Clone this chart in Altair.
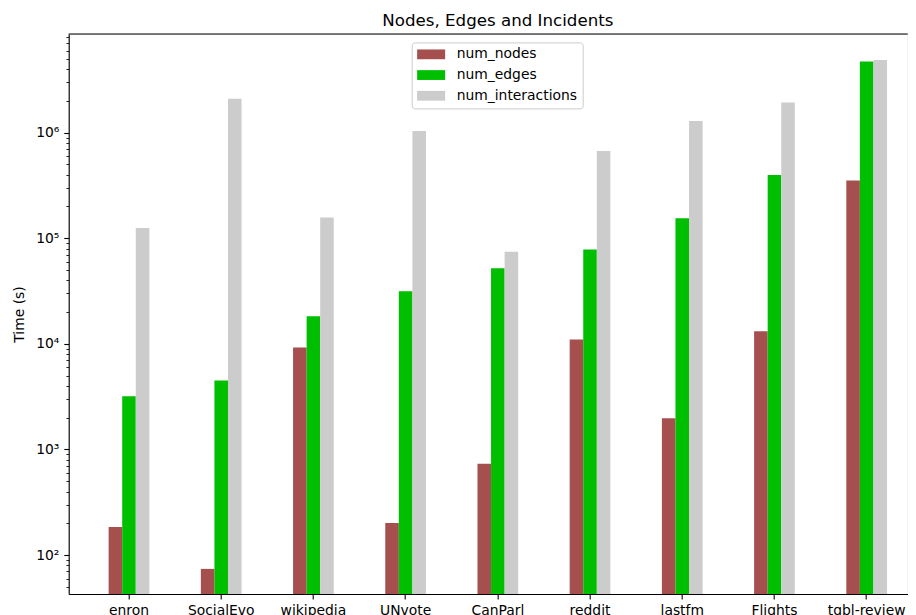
import altair as alt
import pandas as pd

# ---- data ----
datasets = ["enron", "SocialEvo", "wikipedia", "UNvote", "CanParl",
            "reddit", "lastfm", "Flights", "tgbl-review"]
series = ["num_nodes", "num_edges", "num_interactions"]
num_nodes = [184, 74, 9227, 201, 734, 10984, 1980, 13169, 352637]
num_edges = [3200, 4500, 18300, 31500, 51900, 78500, 155000, 397000, 4730000]
num_interactions = [125235, 2099519, 157474, 1035742, 74478, 672447, 1293103, 1927145, 4873540]
colors = ["#a64f4f", "#00be00", "#cccccc"]
y_min, y_max = 42.8, 8.6e6

decades = [100, 1000, 10000, 100000, 1000000]
minor_ticks = [m * d for d in [10, 100, 1000, 10000, 100000, 1000000] for m in range(2, 10)]
minor_ticks = [v for v in minor_ticks if y_min <= v <= y_max]
y_ticks = sorted(decades + minor_ticks)

rows = []
for i, ds in enumerate(datasets):
    for s, vals in zip(series, [num_nodes, num_edges, num_interactions]):
        rows.append({"dataset": ds, "series": s, "value": vals[i], "base": y_min})
df = pd.DataFrame(rows)

FONT = "DejaVu Sans"
W, H = 839, 560

is_decade = "indexof([100,1000,10000,100000,1000000], datum.value) >= 0"
label_expr = ("datum.value == 100 ? '10²' : datum.value == 1000 ? '10³' : "
              "datum.value == 10000 ? '10⁴' : datum.value == 100000 ? '10⁵' : "
              "datum.value == 1000000 ? '10⁶' : ''")

bars = alt.Chart(df).mark_bar().encode(
    x=alt.X("dataset:N", sort=datasets,
            scale=alt.Scale(paddingInner=0.5586, paddingOuter=0.3287, align=0.659),
            axis=alt.Axis(title=None, labelAngle=0, labelFont=FONT, labelFontSize=13.9,
                          labelColor="black", labelPadding=4.9, tickSize=4.9,
                          tickWidth=1.1, tickColor="black", domainColor="black",
                          domainWidth=1.1, labelOverlap=False, grid=False)),
    xOffset=alt.XOffset("series:N", sort=series,
                        scale=alt.Scale(paddingInner=0, paddingOuter=0)),
    y=alt.Y("value:Q", stack=None,
            scale=alt.Scale(type="log", domain=[y_min, y_max], nice=False),
            axis=alt.Axis(title="Time (s)", values=y_ticks, labelExpr=label_expr,
                          labelFont=FONT, labelFontSize=13.9, labelColor="black",
                          labelPadding=4.9, labelOverlap=False, labelFlush=False,
                          tickSize={"condition": {"test": is_decade, "value": 4.9}, "value": 2.8},
                          tickWidth={"condition": {"test": is_decade, "value": 1.1}, "value": 0.85},
                          tickColor="black", domainColor="black", domainWidth=1.1,
                          grid=False, titleFont=FONT, titleFontSize=13.9,
                          titleFontWeight="normal", titleColor="black", titlePadding=9)),
    y2="base:Q",
    color=alt.Color("series:N", sort=series,
                    scale=alt.Scale(domain=series, range=colors),
                    legend=alt.Legend(title=None, orient="none", legendX=343, legendY=8.4,
                                      fillColor="rgba(255,255,255,0.8)", strokeColor="#cccccc",
                                      cornerRadius=3, padding=5,
                                      symbolType="M-2.8,-0.98L2.8,-0.98L2.8,0.98L-2.8,0.98Z",
                                      symbolSize=100, symbolOffset=7.5,
                                      symbolStrokeWidth=0, symbolOpacity=1,
                                      labelFont=FONT, labelFontSize=13.9, labelColor="black",
                                      labelOffset=18.6, rowPadding=5.7)),
)

spine = alt.Chart(pd.DataFrame({"k": [0]})).mark_rule(color="black", strokeWidth=1.1).encode(
    x=alt.value(0), x2=alt.value(W), y=alt.value(0)
)

chart = alt.layer(bars, spine).properties(
    width=W, height=H,
    title=alt.TitleParams("Nodes, Edges and Incidents", font=FONT, fontSize=16.67,
                          fontWeight="normal", color="black", anchor="middle",
                          dx=9.7, offset=-16, baseline="bottom"),
    autosize=alt.AutoSizeParams(type="none"),
    padding={"left": 60.7, "top": 26, "right": 0, "bottom": 21},
).configure_view(stroke=None).configure(background="white")

chart.save("out.html", embed_options={"renderer": "svg", "actions": False})
